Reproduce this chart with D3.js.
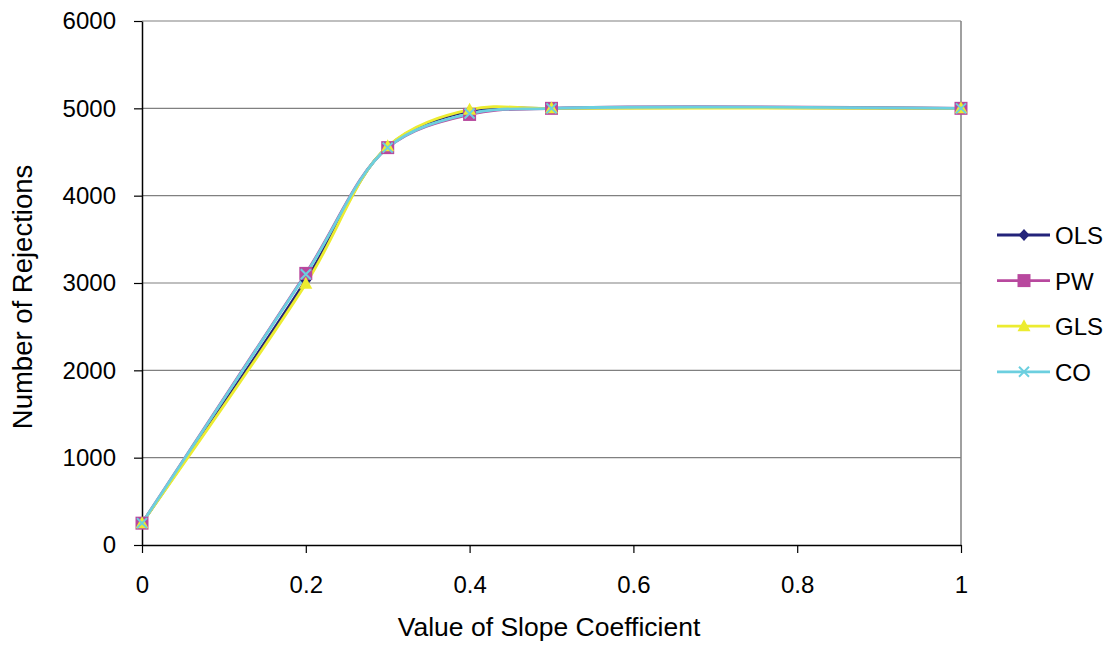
<!DOCTYPE html>
<html><head><meta charset="utf-8">
<script src="https://cdn.jsdelivr.net/npm/d3@7"></script>
<style>body{margin:0;background:#fff}svg{display:block}text{font-family:"Liberation Sans",Arial,sans-serif;fill:#000}</style>
</head><body><svg id="c" width="1111" height="648"></svg>
<script>
const xValues = [0, 0.2, 0.3, 0.4, 0.5, 1];
const seriesNames = ["OLS", "PW", "GLS", "CO"];
const olsValues = [250, 3030, 4560, 4970, 5000, 5000];
const pwValues  = [250, 3110, 4550, 4930, 5000, 5000];
const glsValues = [250, 2990, 4565, 4985, 5000, 5000];
const coValues  = [250, 3100, 4550, 4940, 5000, 5000];
const xTicks = [0, 0.2, 0.4, 0.6, 0.8, 1];
const yTicks = [0, 1000, 2000, 3000, 4000, 5000, 6000];
const colors = ["#23237a", "#b8489e", "#ecec30", "#6ccfdf"];
const allValues = [olsValues, pwValues, glsValues, coValues];

const svg = d3.select("#c");
const L = 142, R = 961, T = 21, B = 545;
const x = d3.scaleLinear().domain([0, 1]).range([L, R]);
const y = d3.scaleLinear().domain([0, 6000]).range([B, T]);

// gridlines
svg.append("g").selectAll("line").data(yTicks.filter(d => d > 0)).join("line")
  .attr("x1", L).attr("x2", R).attr("y1", d => y(d)).attr("y2", d => y(d))
  .attr("stroke", "#808080").attr("stroke-width", 1.2);
svg.append("line").attr("x1", R).attr("x2", R).attr("y1", T).attr("y2", B).attr("stroke", "#808080").attr("stroke-width", 1.5);

// axes
const yAxis = svg.append("g").attr("transform", `translate(${L},0)`)
  .call(d3.axisLeft(y).tickValues(yTicks).tickSize(8).tickPadding(18).tickSizeOuter(0).tickFormat(d3.format("d")));
const xAxis = svg.append("g").attr("transform", `translate(0,${B})`)
  .call(d3.axisBottom(x).tickValues(xTicks).tickSize(8).tickPadding(23).tickSizeOuter(0).tickFormat(d => String(d)));
[yAxis, xAxis].forEach(a => {
  a.select(".domain").attr("stroke", "#000").attr("stroke-width", 1.5);
  a.selectAll(".tick line").attr("stroke", "#000").attr("stroke-width", 1.2);
  a.selectAll(".tick text").attr("font-size", 24).attr("font-family", "Liberation Sans, Arial, sans-serif").attr("fill", "#000");
});

// lines
const line = d3.line().x((d, i) => x(xValues[i])).y(d => y(d)).curve(d3.curveCatmullRom.alpha(0.5));
allValues.forEach((vals, si) => {
  svg.append("path").datum(vals).attr("d", line).attr("fill", "none")
    .attr("stroke", colors[si]).attr("stroke-width", 2.8);
});
// markers
function marker(g, si, cx, cy) {
  let d;
  if (si === 0) d = `M${cx},${cy-6}L${cx+5.5},${cy}L${cx},${cy+6}L${cx-5.5},${cy}Z`;
  else if (si === 1) d = `M${cx-6.5},${cy-6.5}h13v13h-13Z`;
  else if (si === 2) d = `M${cx},${cy-7}L${cx+6.5},${cy+5}L${cx-6.5},${cy+5}Z`;
  if (si === 3) {
    g.append("path").attr("d", `M${cx-5},${cy-5}L${cx+5},${cy+5}M${cx-5},${cy+5}L${cx+5},${cy-5}`)
      .attr("stroke", colors[si]).attr("stroke-width", 2).attr("fill", "none");
  } else {
    g.append("path").attr("d", d).attr("fill", colors[si]);
  }
}
allValues.forEach((vals, si) => {
  const g = svg.append("g");
  vals.forEach((v, i) => marker(g, si, x(xValues[i]), y(v)));
});

// axis titles
svg.append("text").attr("x", 549).attr("y", 636).attr("text-anchor", "middle")
  .attr("font-size", 26.5).text("Value of Slope Coefficient");
svg.append("text").attr("transform", `translate(32,297) rotate(-90)`).attr("text-anchor", "middle")
  .attr("font-size", 27.5).text("Number of Rejections");

// legend
const lg = svg.append("g");
seriesNames.forEach((n, i) => {
  const ly = 235 + i * 45.6;
  lg.append("line").attr("x1", 997).attr("x2", 1050).attr("y1", ly).attr("y2", ly)
    .attr("stroke", colors[i]).attr("stroke-width", 2.8);
  marker(lg, i, 1024, ly);
  lg.append("text").attr("x", 1055).attr("y", ly + 9).attr("font-size", 24).text(n);
});
</script></body></html>
